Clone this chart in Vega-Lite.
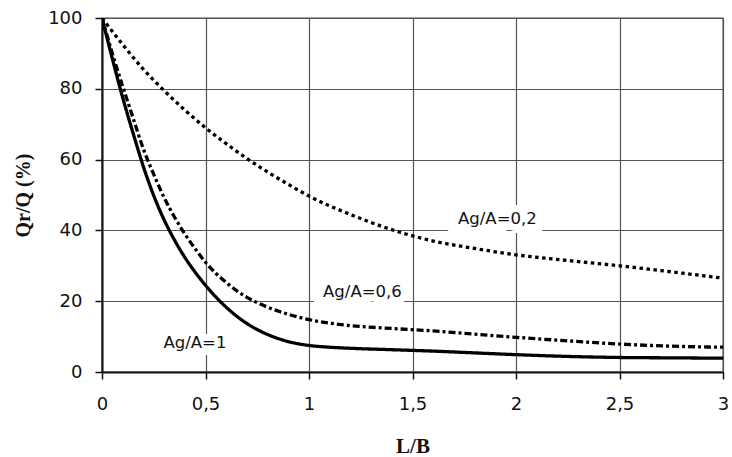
{
  "$schema": "https://vega.github.io/schema/vega-lite/v6.json",
  "width": 621,
  "height": 354,
  "autosize": {"type": "none"},
  "padding": {"left": 102, "top": 18, "right": 9, "bottom": 85},
  "background": "white",
  "config": {
    "view": {"stroke": "#888888", "strokeWidth": 1.5},
    "axis": {
      "labelFont": "DejaVu Sans",
      "labelFontSize": 18,
      "labelColor": "#111111",
      "titleFont": "Liberation Serif",
      "titleFontWeight": "bold",
      "titleFontSize": 21,
      "titleColor": "#111111",
      "gridColor": "#555555",
      "gridWidth": 1.2,
      "gridOpacity": 1,
      "domainColor": "#111111",
      "domainWidth": 2,
      "tickColor": "#111111",
      "tickWidth": 1.5,
      "tickSize": 7
    }
  },
  "datasets": {
    "curves": [
      {"series": "Ag/A=1", "LB": 0, "Q": 100},
      {"series": "Ag/A=1", "LB": 0.05, "Q": 88.5},
      {"series": "Ag/A=1", "LB": 0.1, "Q": 77.5},
      {"series": "Ag/A=1", "LB": 0.15, "Q": 67.5},
      {"series": "Ag/A=1", "LB": 0.2, "Q": 58},
      {"series": "Ag/A=1", "LB": 0.25, "Q": 49.8},
      {"series": "Ag/A=1", "LB": 0.3, "Q": 43},
      {"series": "Ag/A=1", "LB": 0.35, "Q": 37.3},
      {"series": "Ag/A=1", "LB": 0.4, "Q": 32.4},
      {"series": "Ag/A=1", "LB": 0.45, "Q": 28.2},
      {"series": "Ag/A=1", "LB": 0.5, "Q": 24.5},
      {"series": "Ag/A=1", "LB": 0.55, "Q": 21.2},
      {"series": "Ag/A=1", "LB": 0.6, "Q": 18.3},
      {"series": "Ag/A=1", "LB": 0.65, "Q": 15.8},
      {"series": "Ag/A=1", "LB": 0.7, "Q": 13.7},
      {"series": "Ag/A=1", "LB": 0.8, "Q": 10.6},
      {"series": "Ag/A=1", "LB": 0.9, "Q": 8.6},
      {"series": "Ag/A=1", "LB": 1.0, "Q": 7.5},
      {"series": "Ag/A=1", "LB": 1.1, "Q": 7.0},
      {"series": "Ag/A=1", "LB": 1.2, "Q": 6.7},
      {"series": "Ag/A=1", "LB": 1.4, "Q": 6.3},
      {"series": "Ag/A=1", "LB": 1.6, "Q": 5.9},
      {"series": "Ag/A=1", "LB": 1.8, "Q": 5.4},
      {"series": "Ag/A=1", "LB": 2.0, "Q": 4.9},
      {"series": "Ag/A=1", "LB": 2.25, "Q": 4.4},
      {"series": "Ag/A=1", "LB": 2.5, "Q": 4.1},
      {"series": "Ag/A=1", "LB": 2.75, "Q": 4.0},
      {"series": "Ag/A=1", "LB": 3.0, "Q": 3.9},
      {"series": "Ag/A=0,6", "LB": 0, "Q": 100},
      {"series": "Ag/A=0,6", "LB": 0.05, "Q": 90},
      {"series": "Ag/A=0,6", "LB": 0.1, "Q": 80.7},
      {"series": "Ag/A=0,6", "LB": 0.15, "Q": 71.8},
      {"series": "Ag/A=0,6", "LB": 0.2, "Q": 63},
      {"series": "Ag/A=0,6", "LB": 0.25, "Q": 55.8},
      {"series": "Ag/A=0,6", "LB": 0.3, "Q": 49.3},
      {"series": "Ag/A=0,6", "LB": 0.35, "Q": 43.8},
      {"series": "Ag/A=0,6", "LB": 0.4, "Q": 39},
      {"series": "Ag/A=0,6", "LB": 0.45, "Q": 34.8},
      {"series": "Ag/A=0,6", "LB": 0.5, "Q": 31},
      {"series": "Ag/A=0,6", "LB": 0.55, "Q": 27.9},
      {"series": "Ag/A=0,6", "LB": 0.6, "Q": 25.3},
      {"series": "Ag/A=0,6", "LB": 0.65, "Q": 23},
      {"series": "Ag/A=0,6", "LB": 0.7, "Q": 21.1},
      {"series": "Ag/A=0,6", "LB": 0.8, "Q": 18.3},
      {"series": "Ag/A=0,6", "LB": 0.9, "Q": 16.3},
      {"series": "Ag/A=0,6", "LB": 1.0, "Q": 14.8},
      {"series": "Ag/A=0,6", "LB": 1.1, "Q": 13.8},
      {"series": "Ag/A=0,6", "LB": 1.2, "Q": 13.1},
      {"series": "Ag/A=0,6", "LB": 1.4, "Q": 12.3},
      {"series": "Ag/A=0,6", "LB": 1.6, "Q": 11.6},
      {"series": "Ag/A=0,6", "LB": 1.8, "Q": 10.7},
      {"series": "Ag/A=0,6", "LB": 2.0, "Q": 9.8},
      {"series": "Ag/A=0,6", "LB": 2.25, "Q": 8.8},
      {"series": "Ag/A=0,6", "LB": 2.5, "Q": 7.9},
      {"series": "Ag/A=0,6", "LB": 2.75, "Q": 7.3},
      {"series": "Ag/A=0,6", "LB": 3.0, "Q": 7.0},
      {"series": "Ag/A=0,2", "LB": 0, "Q": 100},
      {"series": "Ag/A=0,2", "LB": 0.1, "Q": 92.5},
      {"series": "Ag/A=0,2", "LB": 0.2, "Q": 85.5},
      {"series": "Ag/A=0,2", "LB": 0.3, "Q": 79.5},
      {"series": "Ag/A=0,2", "LB": 0.4, "Q": 74},
      {"series": "Ag/A=0,2", "LB": 0.5, "Q": 69},
      {"series": "Ag/A=0,2", "LB": 0.6, "Q": 64.5},
      {"series": "Ag/A=0,2", "LB": 0.7, "Q": 60.3},
      {"series": "Ag/A=0,2", "LB": 0.8, "Q": 56.5},
      {"series": "Ag/A=0,2", "LB": 0.9, "Q": 53},
      {"series": "Ag/A=0,2", "LB": 1.0, "Q": 49.7},
      {"series": "Ag/A=0,2", "LB": 1.2, "Q": 44.5},
      {"series": "Ag/A=0,2", "LB": 1.4, "Q": 40.2},
      {"series": "Ag/A=0,2", "LB": 1.6, "Q": 37},
      {"series": "Ag/A=0,2", "LB": 1.8, "Q": 34.9},
      {"series": "Ag/A=0,2", "LB": 2.0, "Q": 33.1},
      {"series": "Ag/A=0,2", "LB": 2.25, "Q": 31.5},
      {"series": "Ag/A=0,2", "LB": 2.5, "Q": 30},
      {"series": "Ag/A=0,2", "LB": 2.75, "Q": 28.3},
      {"series": "Ag/A=0,2", "LB": 3.0, "Q": 26.5}
    ],
    "labels": [
      {"text": "Ag/A=0,2", "LB": 1.91, "Q": 43.2},
      {"text": "Ag/A=0,6", "LB": 1.258, "Q": 22.7},
      {"text": "Ag/A=1", "LB": 0.449, "Q": 8.3}
    ]
  },
  "layer": [
    {
      "data": {"name": "curves"},
      "mark": {"type": "line", "interpolate": "monotone", "color": "#000000", "strokeWidth": 3.3, "clip": true},
      "encoding": {
        "x": {
          "field": "LB", "type": "quantitative",
          "scale": {"domain": [0, 3], "nice": false},
          "axis": {
            "values": [0, 0.5, 1, 1.5, 2, 2.5, 3],
            "labelExpr": "replace(format(datum.value, ''), '.', ',')",
            "title": "L/B",
            "labelPadding": 16,
            "titlePadding": 22,
            "labelFlush": false
          }
        },
        "y": {
          "field": "Q", "type": "quantitative",
          "scale": {"domain": [0, 100], "nice": false},
          "axis": {
            "values": [0, 20, 40, 60, 80, 100],
            "title": "Qr/Q (%)",
            "titleFontSize": 20,
            "labelPadding": 13,
            "titlePadding": 14,
            "labelFlush": false
          }
        },
        "detail": {"field": "series"},
        "strokeDash": {
          "field": "series", "type": "nominal",
          "scale": {"domain": ["Ag/A=1", "Ag/A=0,6", "Ag/A=0,2"], "range": [[1, 0], [7, 3, 3, 3], [3.5, 3.5]]},
          "legend": null
        }
      }
    },
    {
      "data": {"name": "labels"},
      "mark": {"type": "text", "font": "DejaVu Sans", "fontSize": 16.5, "color": "white", "stroke": "white", "strokeWidth": 14, "strokeJoin": "miter", "align": "center", "baseline": "middle"},
      "encoding": {
        "x": {"field": "LB", "type": "quantitative"},
        "y": {"field": "Q", "type": "quantitative"},
        "text": {"field": "text"}
      }
    },
    {
      "data": {"name": "labels"},
      "mark": {"type": "text", "font": "DejaVu Sans", "fontSize": 16.5, "color": "#111111", "align": "center", "baseline": "middle"},
      "encoding": {
        "x": {"field": "LB", "type": "quantitative"},
        "y": {"field": "Q", "type": "quantitative"},
        "text": {"field": "text"}
      }
    }
  ]
}
